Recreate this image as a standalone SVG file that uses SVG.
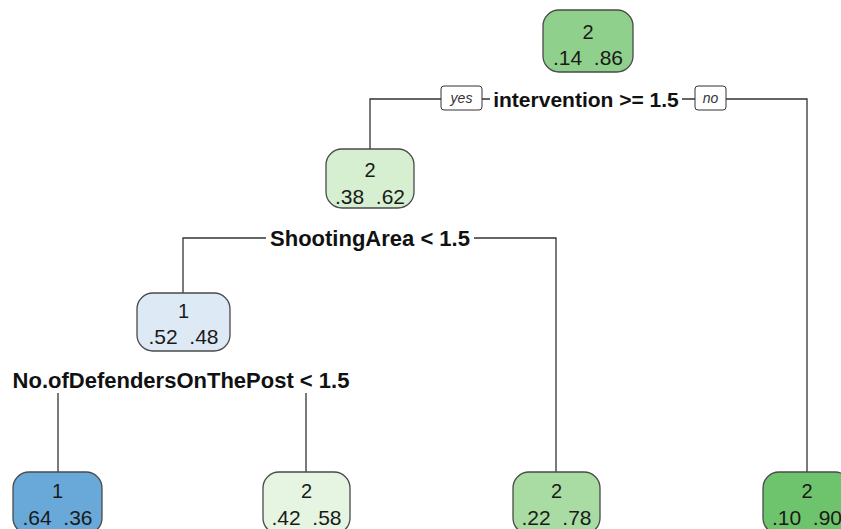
<svg xmlns="http://www.w3.org/2000/svg" width="841" height="529" viewBox="0 0 841 529">
<style>
.box{stroke:#4a4a4a;stroke-width:1.3}
.cls{font-family:"Liberation Sans",Arial,sans-serif;font-size:20px;fill:#1a1a1a;text-anchor:middle}
.prob{font-family:"Liberation Sans",Arial,sans-serif;font-size:21px;fill:#1a1a1a;text-anchor:middle;white-space:pre}
.split{font-family:"Liberation Sans",Arial,sans-serif;font-size:22px;font-weight:bold;fill:#111;text-anchor:middle}
.yn{fill:#fff;stroke:#333;stroke-width:1}
.yntxt{font-family:"Liberation Sans",Arial,sans-serif;font-size:14px;font-style:italic;fill:#333;text-anchor:middle}
.edge{fill:none;stroke:#333;stroke-width:1.3}
</style>
<rect width="841" height="529" fill="#fff"/>
<g id="connectors">
<path class="edge" d="M370,149 V99 H441 M482,99 H490 M682,99 H695 M726,99 H807 V472"/>
<path class="edge" d="M183,293 V238 H266 M474,238 H556 V472"/>
<path class="edge" d="M58,393 V472 M306,393 V472"/>
</g>
<g id="root">
<rect class="box" x="543" y="10" width="90" height="62" rx="16" fill="#8fd18c"/>
<text class="cls" x="588" y="39">2</text>
<text class="prob" x="588" y="65" xml:space="preserve">.14  .86</text>
</g>
<g id="split-root">
<rect class="yn" x="441" y="86" width="41" height="24" rx="3"/>
<text class="yntxt" x="461.5" y="103">yes</text>
<text class="split" x="586" y="107" style="font-size:21px">intervention &gt;= 1.5</text>
<rect class="yn" x="695" y="86" width="31" height="24" rx="3"/>
<text class="yntxt" x="710.5" y="103">no</text>
</g>
<g id="node2">
<rect class="box" x="326" y="149" width="88" height="59" rx="16" fill="#d5efd0"/>
<text class="cls" x="370" y="177">2</text>
<text class="prob" x="370" y="204" xml:space="preserve">.38  .62</text>
</g>
<g id="split-node2">
<text class="split" x="370" y="246">ShootingArea &lt; 1.5</text>
</g>
<g id="node1">
<rect class="box" x="137" y="293" width="93" height="58" rx="16" fill="#dee9f6"/>
<text class="cls" x="183.5" y="318">1</text>
<text class="prob" x="183.5" y="344" xml:space="preserve">.52  .48</text>
</g>
<g id="split-node1">
<text class="split" x="181" y="388">No.ofDefendersOnThePost &lt; 1.5</text>
</g>
<g id="leaf1">
<rect class="box" x="13" y="472" width="89" height="62" rx="16" fill="#68a9d9"/>
<text class="cls" x="57.5" y="498">1</text>
<text class="prob" x="57.5" y="525" xml:space="preserve">.64  .36</text>
</g>
<g id="leaf2">
<rect class="box" x="263" y="472" width="87" height="62" rx="16" fill="#e6f5e1"/>
<text class="cls" x="306.5" y="498">2</text>
<text class="prob" x="306.5" y="525" xml:space="preserve">.42  .58</text>
</g>
<g id="leaf3">
<rect class="box" x="513" y="472" width="87" height="62" rx="16" fill="#a9dca2"/>
<text class="cls" x="556.5" y="498">2</text>
<text class="prob" x="556.5" y="525" xml:space="preserve">.22  .78</text>
</g>
<g id="leaf4">
<rect class="box" x="763" y="472" width="88" height="62" rx="16" fill="#6ec46c"/>
<text class="cls" x="807" y="498">2</text>
<text class="prob" x="807" y="525" xml:space="preserve">.10  .90</text>
</g>
</svg>
